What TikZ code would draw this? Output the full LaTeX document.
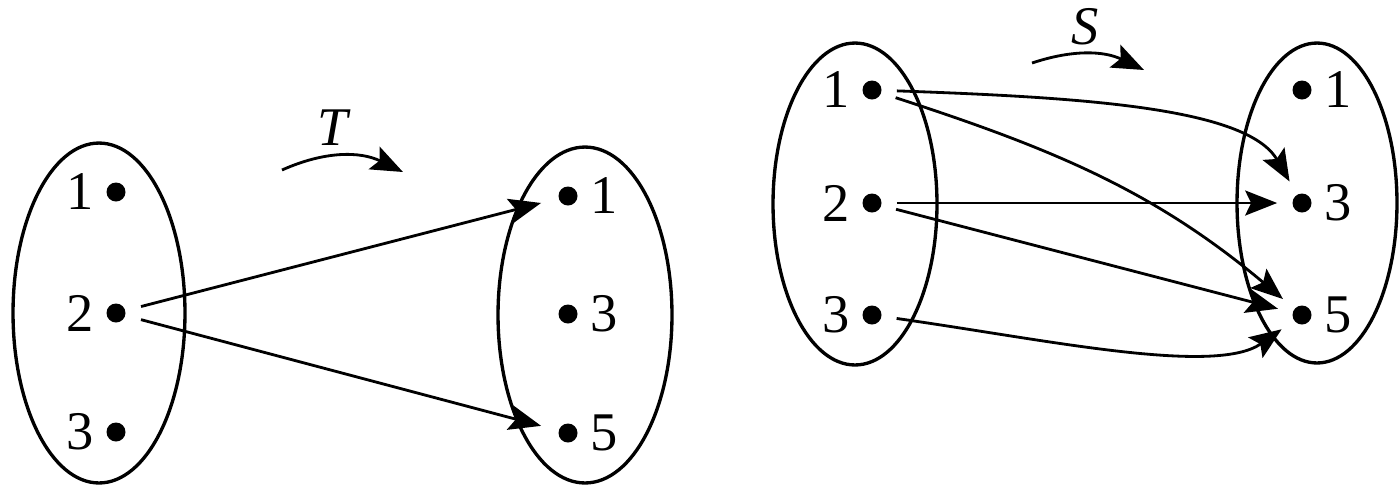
\documentclass[tikz,border=0pt]{standalone}
\usepackage{fontspec}
\setmainfont{Liberation Serif}
\usetikzlibrary{arrows.meta, shapes.geometric, positioning}
\tikzset{pt/.style={circle, fill=black, minimum size=0.38cm, inner sep=0pt},
    set/.style={ellipse, draw, line width=1.9pt, inner sep=0pt},
    lbl/.style={font=\fontsize{31}{34}\selectfont, inner sep=0pt},
    map/.style={draw, line width=1.6pt, -{Stealth[length=0.64cm, width=0.5cm, inset=0.12cm]},
        shorten <=0.3cm, shorten >=0.3cm},
    name arrow/.style={draw, line width=1.6pt, -{Stealth[length=0.64cm, width=0.5cm, inset=0.12cm]}}}

\begin{document}
\begin{tikzpicture}[
    x=0.02cm, y=-0.02cm,
    label distance=0.24cm,
    every label/.style={lbl}
  ]
  \useasboundingbox (0,0) rectangle (1399,485);

  % the map T
  \node[set, minimum width=3.44cm, minimum height=6.8cm] (A) at (99,313) {};
  \node[set, minimum width=3.48cm, minimum height=6.72cm] (B) at (585,315) {};
  \node[pt, label=left:1] (a1) at (116,192) {};
  \node[pt, label=left:2] (a2) at (116,313) {};
  \node[pt, label=left:3] (a3) at (116,432) {};
  \node[pt, label=right:1] (b1) at (568,196) {};
  \node[pt, label=right:3] (b3) at (568,314) {};
  \node[pt, label=right:5] (b5) at (568,433) {};

  \node[lbl] (T) at (333,128) {\itshape T};
  \coordinate (t0) at (282,170);
  \coordinate (t1) at (403,172);
  \draw[name arrow] (t0) to[bend left=25] (t1);

  \draw[map, shorten <=0.32cm, shorten >=0.36cm] (a2) -- (b1);
  \draw[map, shorten <=0.32cm, shorten >=0.36cm] (a2) -- (b5);

  % the map S
  \node[set, minimum width=3.28cm, minimum height=6.44cm] (C) at (855,204) {};
  \node[set, minimum width=3.2cm, minimum height=6.4cm] (D) at (1317,203) {};
  \node[pt, label=left:1] (c1) at (872,90) {};
  \node[pt, label=left:2] (c2) at (872,203) {};
  \node[pt, label=left:3] (c3) at (872,315) {};
  \node[pt, label=right:1] (d1) at (1302,90) {};
  \node[pt, label=right:3] (d3) at (1302,203) {};
  \node[pt, label=right:5] (d5) at (1302,315) {};

  \node[lbl] (S) at (1085,27) {\itshape S};
  \coordinate (s0) at (1032,63);
  \coordinate (s1) at (1144,70);
  \draw[name arrow] (s0) to[bend left=22] (s1);

  \draw[map] (c1) to[out=-2, in=120, out looseness=1.2, in looseness=0.6] (d3);
  \draw[map] (c1) to[out=-18, in=140] (d5);
  \draw[map] (c2) -- (d3);
  \draw[map] (c2) -- (d5);
  \draw[map] (c3) to[out=-8, in=215, in looseness=0.6] (d5);
\end{tikzpicture}
\end{document}
